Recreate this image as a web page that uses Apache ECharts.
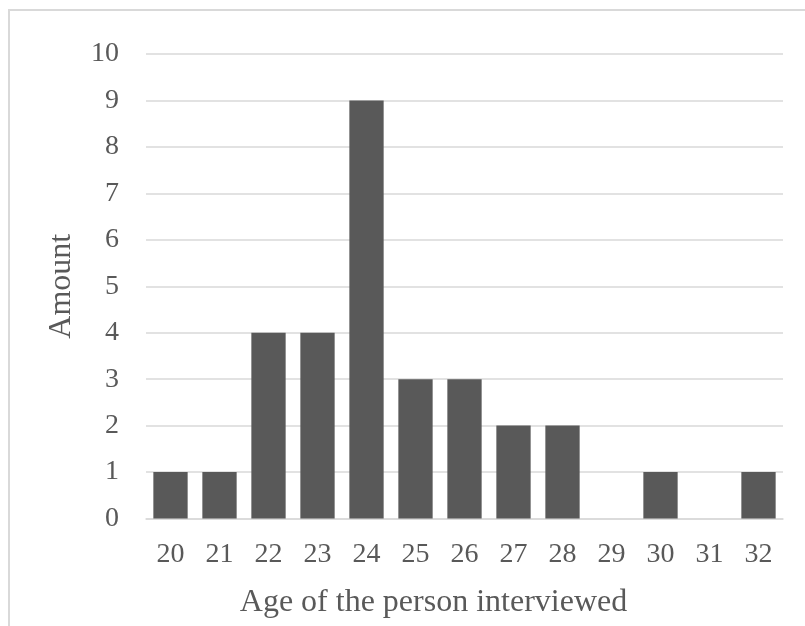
<!DOCTYPE html>
<html>
<head>
<meta charset="utf-8">
<script src="https://cdn.jsdelivr.net/npm/echarts@6/dist/echarts.min.js"></script>
<style>
html,body{margin:0;padding:0;background:#fff;}
#chart{width:805px;height:626px;}
</style>
</head>
<body>
<div id="chart"></div>
<script>
const ages = ['20','21','22','23','24','25','26','27','28','29','30','31','32'];
const amounts = [1,1,4,4,9,3,3,2,2,0,1,0,1];
const yTicks = {min:0, max:10, interval:1};
const xTitle = 'Age of the person interviewed';
const yTitle = 'Amount';

const FONT = 'Liberation Serif';
const chart = echarts.init(document.getElementById('chart'), null, {renderer:'canvas'});
chart.setOption({
  backgroundColor:'#ffffff',
  animation:false,
  graphic:[{
    type:'rect', z:-1,
    shape:{x:9, y:10, width:900, height:700},
    style:{fill:'none', stroke:'#d9d9d9', lineWidth:2}
  }],
  grid:{left:146, right:22, top:54, bottom:107.5, containLabel:false},
  xAxis:{
    type:'category',
    data:ages,
    axisLine:{show:true, lineStyle:{color:'#d9d9d9', width:1.5}},
    axisTick:{show:false},
    axisLabel:{color:'#595959', fontFamily:FONT, fontSize:28, margin:22},
    name:xTitle,
    nameLocation:'middle',
    nameGap:68,
    nameTextStyle:{color:'#595959', fontFamily:FONT, fontSize:32, padding:[0,62,0,0]}
  },
  yAxis:{
    type:'value',
    min:yTicks.min, max:yTicks.max, interval:yTicks.interval,
    axisLine:{show:false},
    axisTick:{show:false},
    splitLine:{lineStyle:{color:'#d9d9d9', width:1.5}},
    axisLabel:{color:'#595959', fontFamily:FONT, fontSize:28, margin:27},
    name:yTitle,
    nameLocation:'middle',
    nameGap:68,
    nameRotate:90,
    nameTextStyle:{color:'#595959', fontFamily:FONT, fontSize:32}
  },
  series:[{
    type:'bar',
    data:amounts,
    barCategoryGap:'30%',
    itemStyle:{color:'#595959'}
  }]
});
</script>
</body>
</html>
